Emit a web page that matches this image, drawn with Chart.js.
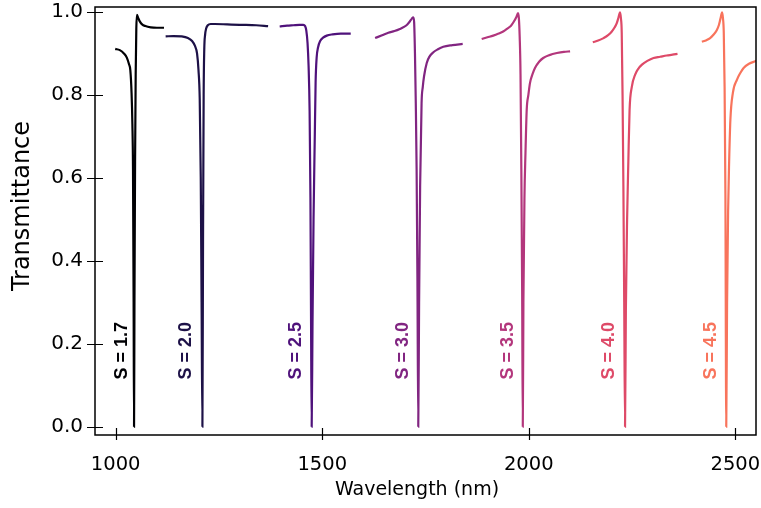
<!DOCTYPE html>
<html>
<head>
<meta charset="utf-8">
<script src="https://cdn.jsdelivr.net/npm/chart.js@4.4.1/dist/chart.umd.min.js"></script>
<style>
  html, body { margin: 0; padding: 0; background: #fff; }
  #wrap { width: 761px; height: 508px; }
</style>
</head>
<body>
<div id="wrap"><canvas id="grafico" width="761" height="508"></canvas></div>
<script>
// wavelength (nm) and transmittance, one pair per S value
const wl17 = [999, 1010, 1020, 1027, 1032, 1035.5, 1038.5, 1040.5, 1042, 1043.5, 1044.5, 1045.5, 1047, 1048.5, 1050, 1051.5, 1054, 1058, 1064, 1072, 1085, 1100, 1117];
const tr17 = [0.911, 0.908, 0.900, 0.890, 0.875, 0.86, 0.805, 0.73, 0.62, 0.3, 0.0, 0.3, 0.64, 0.85, 0.96, 0.993, 0.987, 0.978, 0.970, 0.966, 0.963, 0.962, 0.962];

const wl20 = [1121, 1140, 1160, 1175, 1185, 1192, 1197, 1200.5, 1203.5, 1206, 1208, 1210, 1211.5, 1213, 1214.5, 1216.5, 1219, 1223, 1230, 1240, 1270, 1300, 1340, 1369];
const tr20 = [0.941, 0.942, 0.941, 0.937, 0.930, 0.918, 0.900, 0.86, 0.79, 0.6, 0.3, 0.0, 0.45, 0.80, 0.91, 0.945, 0.960, 0.968, 0.971, 0.971, 0.970, 0.969, 0.968, 0.966];

const wl25 = [1397, 1415, 1430, 1445, 1454, 1458.5, 1461.5, 1464.5, 1467, 1469.5, 1471.5, 1473, 1474.5, 1476.5, 1479, 1482, 1484, 1486.5, 1490, 1495, 1502, 1511, 1525, 1545, 1569];
const tr25 = [0.965, 0.967, 0.968, 0.969, 0.969, 0.966, 0.955, 0.925, 0.87, 0.76, 0.55, 0.25, 0.0, 0.25, 0.5, 0.70, 0.83, 0.89, 0.915, 0.93, 0.938, 0.943, 0.946, 0.948, 0.948];

const wl30 = [1628, 1645, 1660, 1675, 1688, 1698, 1706, 1712, 1717, 1720.5, 1722.5, 1724.5, 1726.5, 1728.5, 1730.5, 1732.5, 1734.5, 1737, 1740.5, 1743.5, 1746.5, 1753, 1760, 1769, 1780, 1793, 1815, 1840];
const tr30 = [0.937, 0.944, 0.950, 0.954, 0.959, 0.964, 0.970, 0.977, 0.984, 0.987, 0.975, 0.90, 0.78, 0.62, 0.35, 0.0, 0.3, 0.58, 0.78, 0.82, 0.845, 0.877, 0.893, 0.903, 0.910, 0.916, 0.920, 0.923];

const wl35 = [1886, 1900, 1914, 1927, 1938, 1948, 1957, 1964, 1970, 1974, 1976, 1978, 1980, 1982, 1984, 1985.5, 1987, 1989.5, 1992, 1995, 1999, 2003, 2009, 2015, 2025, 2035, 2050, 2068, 2085, 2100];
const tr35 = [0.935, 0.939, 0.943, 0.948, 0.953, 0.960, 0.967, 0.977, 0.988, 0.997, 0.985, 0.94, 0.85, 0.62, 0.32, 0.0, 0.3, 0.55, 0.66, 0.764, 0.80, 0.829, 0.850, 0.865, 0.880, 0.889, 0.896, 0.901, 0.904, 0.905];

const wl40 = [2155, 2168, 2181, 2192, 2201, 2208, 2213, 2217, 2221, 2223, 2225, 2227, 2229, 2231, 2233, 2235, 2238, 2241, 2244, 2249.5, 2257.5, 2265, 2274, 2287, 2302, 2318, 2334, 2348, 2360];
const tr40 = [0.927, 0.931, 0.937, 0.944, 0.953, 0.963, 0.973, 0.986, 0.999, 0.985, 0.95, 0.80, 0.58, 0.30, 0.0, 0.28, 0.50, 0.64, 0.764, 0.82, 0.849, 0.863, 0.873, 0.882, 0.889, 0.892, 0.895, 0.897, 0.899];

const wl45 = [2419, 2430, 2439, 2447, 2455, 2460, 2464, 2468, 2470, 2472, 2474, 2476, 2478, 2480, 2482.5, 2485, 2488, 2494, 2504, 2512, 2520, 2533, 2548, 2560];
const tr45 = [0.928, 0.932, 0.937, 0.945, 0.956, 0.968, 0.984, 0.999, 0.985, 0.95, 0.82, 0.55, 0.0, 0.30, 0.52, 0.64, 0.74, 0.805, 0.837, 0.853, 0.865, 0.875, 0.881, 0.885];

const xTicks = [1000, 1500, 2000, 2500];
const yTicks = [0.0, 0.2, 0.4, 0.6, 0.8, 1.0];

const rotulos = ['S = 1.7', 'S = 2.0', 'S = 2.5', 'S = 3.0', 'S = 3.5', 'S = 4.0', 'S = 4.5'];
const cores = ['#000004', '#1d1147', '#4f127b', '#812581', '#b3367c', '#de4a68', '#f8745c'];
// where each S label sits (wavelength, transmittance)
const rotuloWl = [1016, 1170, 1437, 1695, 1949, 2194, 2442];
const rotuloTr = 0.183;

const fonte = "'DejaVu Sans', sans-serif";
const fonteRotulo = "'Liberation Sans', Arial, sans-serif";

function pontos(wl, tr){
    return wl.map((w, i) => ({x: w, y: tr[i]}));
}

const series = [[wl17, tr17], [wl20, tr20], [wl25, tr25], [wl30, tr30], [wl35, tr35], [wl40, tr40], [wl45, tr45]];

// frame, in-out ticks, axis titles and the rotated S labels
const molduraPlugin = {
    id: 'moldura',
    afterDatasetsDraw(chart){
        const {ctx, chartArea: a, scales: {x, y}} = chart;
        ctx.save();
        ctx.strokeStyle = '#000';
        ctx.lineWidth = 1.5;
        ctx.strokeRect(a.left, a.top, a.right - a.left, a.bottom - a.top);
        ctx.lineWidth = 1.2;
        ctx.beginPath();
        x.ticks.forEach(t => {
            const px = Math.round(x.getPixelForValue(t.value)) + 0.5;
            ctx.moveTo(px, a.bottom - 7);
            ctx.lineTo(px, a.bottom + 5);
        });
        y.ticks.forEach(t => {
            const py = Math.round(y.getPixelForValue(t.value)) + 0.5;
            ctx.moveTo(a.left - 8, py);
            ctx.lineTo(a.left + 8, py);
        });
        ctx.stroke();

        ctx.fillStyle = '#000';
        ctx.textAlign = 'center';
        ctx.textBaseline = 'middle';
        ctx.font = '19px ' + fonte;
        ctx.fillText('Wavelength (nm)', 417, 490);
        ctx.save();
        ctx.translate(22.5, 206);
        ctx.rotate(-Math.PI / 2);
        ctx.font = '24px ' + fonte;
        ctx.fillText('Transmittance', 0, 0);
        ctx.restore();

        ctx.font = 'bold 18px ' + fonteRotulo;
        rotulos.forEach((txt, i) => {
            ctx.save();
            ctx.translate(x.getPixelForValue(rotuloWl[i]), y.getPixelForValue(rotuloTr));
            ctx.rotate(-Math.PI / 2);
            ctx.fillStyle = cores[i];
            ctx.fillText(txt, 0, 0);
            ctx.restore();
        });
        ctx.restore();
    }
};

const ctx = document.getElementById('grafico').getContext('2d');
const data = {
    datasets: series.map((s, i) => ({
        label: rotulos[i],
        data: pontos(s[0], s[1]),
        borderColor: cores[i],
        borderWidth: 2.2,
        pointRadius: 0,
        fill: false,
        cubicInterpolationMode: 'monotone'
    }))
};
const options = {
    responsive: false,
    animation: false,
    devicePixelRatio: 1,
    layout: {padding: {top: 7, right: 5, left: 0, bottom: 0}},
    plugins: {legend: {display: false}, tooltip: {enabled: false}},
    scales: {
        x: {
            type: 'linear',
            min: 950,
            max: 2550,
            grid: {display: false, drawTicks: false},
            border: {display: false},
            ticks: {
                padding: 18,
                color: '#000',
                maxRotation: 0,
                font: {family: fonte, size: 19.5},
                callback: v => String(v)
            },
            afterBuildTicks: s => { s.ticks = xTicks.map(v => ({value: v})); },
            afterFit: s => { s.height = 73; s.paddingLeft = 0; s.paddingRight = 0; }
        },
        y: {
            min: -0.02,
            max: 1.012,
            grid: {display: false, drawTicks: false},
            border: {display: false},
            ticks: {
                padding: 12,
                color: '#000',
                font: {family: fonte, size: 20},
                callback: v => v.toFixed(1)
            },
            afterBuildTicks: s => { s.ticks = yTicks.map(v => ({value: v})); },
            afterFit: s => { s.width = 95; s.paddingTop = 0; s.paddingBottom = 0; }
        }
    }
};

const myChart = new Chart(ctx, {type: 'line', data: data, options: options, plugins: [molduraPlugin]});
</script>
</body>
</html>
